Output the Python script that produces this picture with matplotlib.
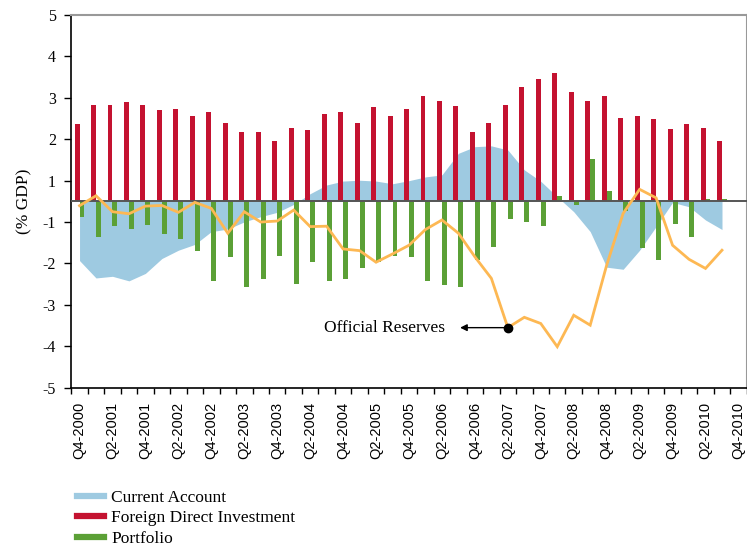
import numpy as np
import matplotlib
matplotlib.use('Agg')
import matplotlib.pyplot as plt
from matplotlib.lines import Line2D

# quarterly data, Q4-2000 .. Q3-2010 (Q4-2010 slot left empty)
tick_labels = ['Q4-2000', 'Q2-2001', 'Q4-2001', 'Q2-2002', 'Q4-2002', 'Q2-2003',
               'Q4-2003', 'Q2-2004', 'Q4-2004', 'Q2-2005', 'Q4-2005', 'Q2-2006',
               'Q4-2006', 'Q2-2007', 'Q4-2007', 'Q2-2008', 'Q4-2008', 'Q2-2009',
               'Q4-2009', 'Q2-2010', 'Q4-2010']
n_slots = 41

current_account = [-1.93, -2.35, -2.31, -2.42, -2.24, -1.88, -1.68, -1.54, -1.23, -1.17,
                   -0.99, -0.74, -0.53, -0.15, 0.37, 0.79, 0.98, 1.01, 0.98, 0.85,
                   1.00, 1.09, 1.14, 1.66, 1.82, 1.84, 1.74, 1.26, 0.97, 0.22,
                   -0.50, -1.23, -2.09, -2.14, -1.68, -1.11, -0.05, -0.26, -0.90, -1.18]
fdi = [2.37, 2.83, 2.83, 2.90, 2.83, 2.71, 2.73, 2.56, 2.66, 2.39,
       2.17, 2.17, 1.96, 2.27, 2.22, 2.61, 2.66, 2.39, 2.78, 2.56,
       2.73, 3.04, 2.92, 2.80, 2.17, 2.39, 2.83, 3.26, 3.45, 3.60,
       3.14, 2.92, 3.04, 2.51, 2.56, 2.49, 2.25, 2.37, 2.27, 1.96]
portfolio = [-0.74, -1.36, -1.09, -1.16, -1.07, -1.28, -1.40, -1.69, -2.42, -1.84,
             -2.56, -2.37, -1.81, -2.49, -1.96, -2.42, -2.37, -2.10, -1.96, -1.81,
             -1.84, -2.42, -2.51, -2.56, -1.91, -1.60, -0.84, -0.99, -1.09, 0.26,
             -0.16, 1.52, 0.50, -0.45, -1.62, -1.91, -1.04, -1.36, 0.11, 0.11]
reserves = [-0.21, 0.27, -0.50, -0.60, -0.23, -0.20, -0.53, -0.05, -0.34, -1.27,
            -0.50, -1.00, -0.95, -0.42, -1.11, -1.10, -1.65, -1.69, -1.97, -1.77,
            -1.56, -1.18, -0.90, -1.27, -1.84, -2.36, -3.55, -3.30, -3.45, -4.01,
            -3.25, -3.49, -2.04, -0.58, 0.58, 0.17, -1.56, -1.90, -2.12, -1.68]
y_ticks = [5, 4, 3, 2, 1, -1, -2, -3, -4, -5]
marked = 26  # Q2-2007 point with the label

c_blue = '#9ecae1'
c_red = '#c41230'
c_green = '#5ba036'
c_orange = '#fdb853'
serif = ['Liberation Serif', 'DejaVu Serif']
sans = ['Liberation Sans', 'DejaVu Sans']


# axis skips 0: [-1, 1] is squeezed into one unit
def fwd(v):
    v = np.asarray(v, dtype=float)
    return np.where(v >= 1, v, np.where(v <= -1, v + 1, 0.5 + v / 2))


def inv(u):
    u = np.asarray(u, dtype=float)
    return np.where(u >= 1, u, np.where(u <= 0, u - 1, 2 * (u - 0.5)))


x = np.arange(len(fdi))

fig = plt.figure(figsize=(7.47, 5.48), dpi=100)
ax = fig.add_axes([71.3 / 747, 1 - 387.7 / 548, 675.4 / 747, 372.7 / 548])
ax.set_yscale('function', functions=(fwd, inv))

ax.fill_between(x, 0, current_account, color=c_blue, lw=0, zorder=1)
ax.bar(x - 0.15, fdi, width=0.3, color=c_red, zorder=2)
ax.bar(x + 0.15, portfolio, width=0.3, color=c_green, zorder=2)
ax.axhline(0, color='#555555', lw=1.4, zorder=3)
ax.plot(x, reserves, color=c_orange, lw=2.0, zorder=4, solid_joinstyle='miter')

ax.plot(x[marked], reserves[marked], 'o', color='black', ms=6, zorder=5)
ax.annotate('', xy=(23.1, reserves[marked]), xytext=(x[marked], reserves[marked]),
            arrowprops=dict(arrowstyle='-|>', color='black', lw=1.0,
                            mutation_scale=10, shrinkA=0, shrinkB=0), zorder=5)
ax.text(22.2, reserves[marked], 'Official Reserves', ha='right', va='center',
        fontsize=12.5, family=serif, zorder=5)

ax.set_xlim(-0.5, n_slots - 0.5)
ax.set_ylim(-5, 5)
ax.set_yticks(y_ticks)
ax.set_yticklabels([str(t) for t in y_ticks], family=serif, fontsize=11.5)
ax.tick_params(axis='y', direction='out', length=5, width=1, pad=6)
ax.yaxis.set_minor_locator(plt.NullLocator())

ax.set_xticks(np.arange(0, n_slots, 2))
ax.set_xticklabels(tick_labels, rotation=90, family=sans, fontsize=10.5)
ax.set_xticks(np.arange(-0.5, n_slots, 1), minor=True)
ax.tick_params(axis='x', which='major', length=0, pad=10)
ax.tick_params(axis='x', which='minor', direction='out', length=4, width=1)

for side in ['left', 'bottom']:
    ax.spines[side].set_color('black')
    ax.spines[side].set_linewidth(1.2)
for side in ['top', 'right']:
    ax.spines[side].set_color('#999999')
    ax.spines[side].set_linewidth(1.5)

fig.text(24 / 747, 1 - 201 / 548, '(% GDP)', rotation=90, ha='center', va='center',
         fontsize=12.5, family=serif)

handles = [Line2D([], [], color=c, lw=4.5) for c in (c_blue, c_red, c_green)]
fig.legend(handles, ['Current Account', 'Foreign Direct Investment', 'Portfolio'],
           loc='upper left', bbox_to_anchor=(68 / 747, 1 - 481 / 548),
           frameon=False, borderpad=0, handlelength=1.55, handletextpad=0.45,
           labelspacing=0.25, prop={'family': serif, 'size': 12.5})

fig.savefig('out.png', dpi=100)
